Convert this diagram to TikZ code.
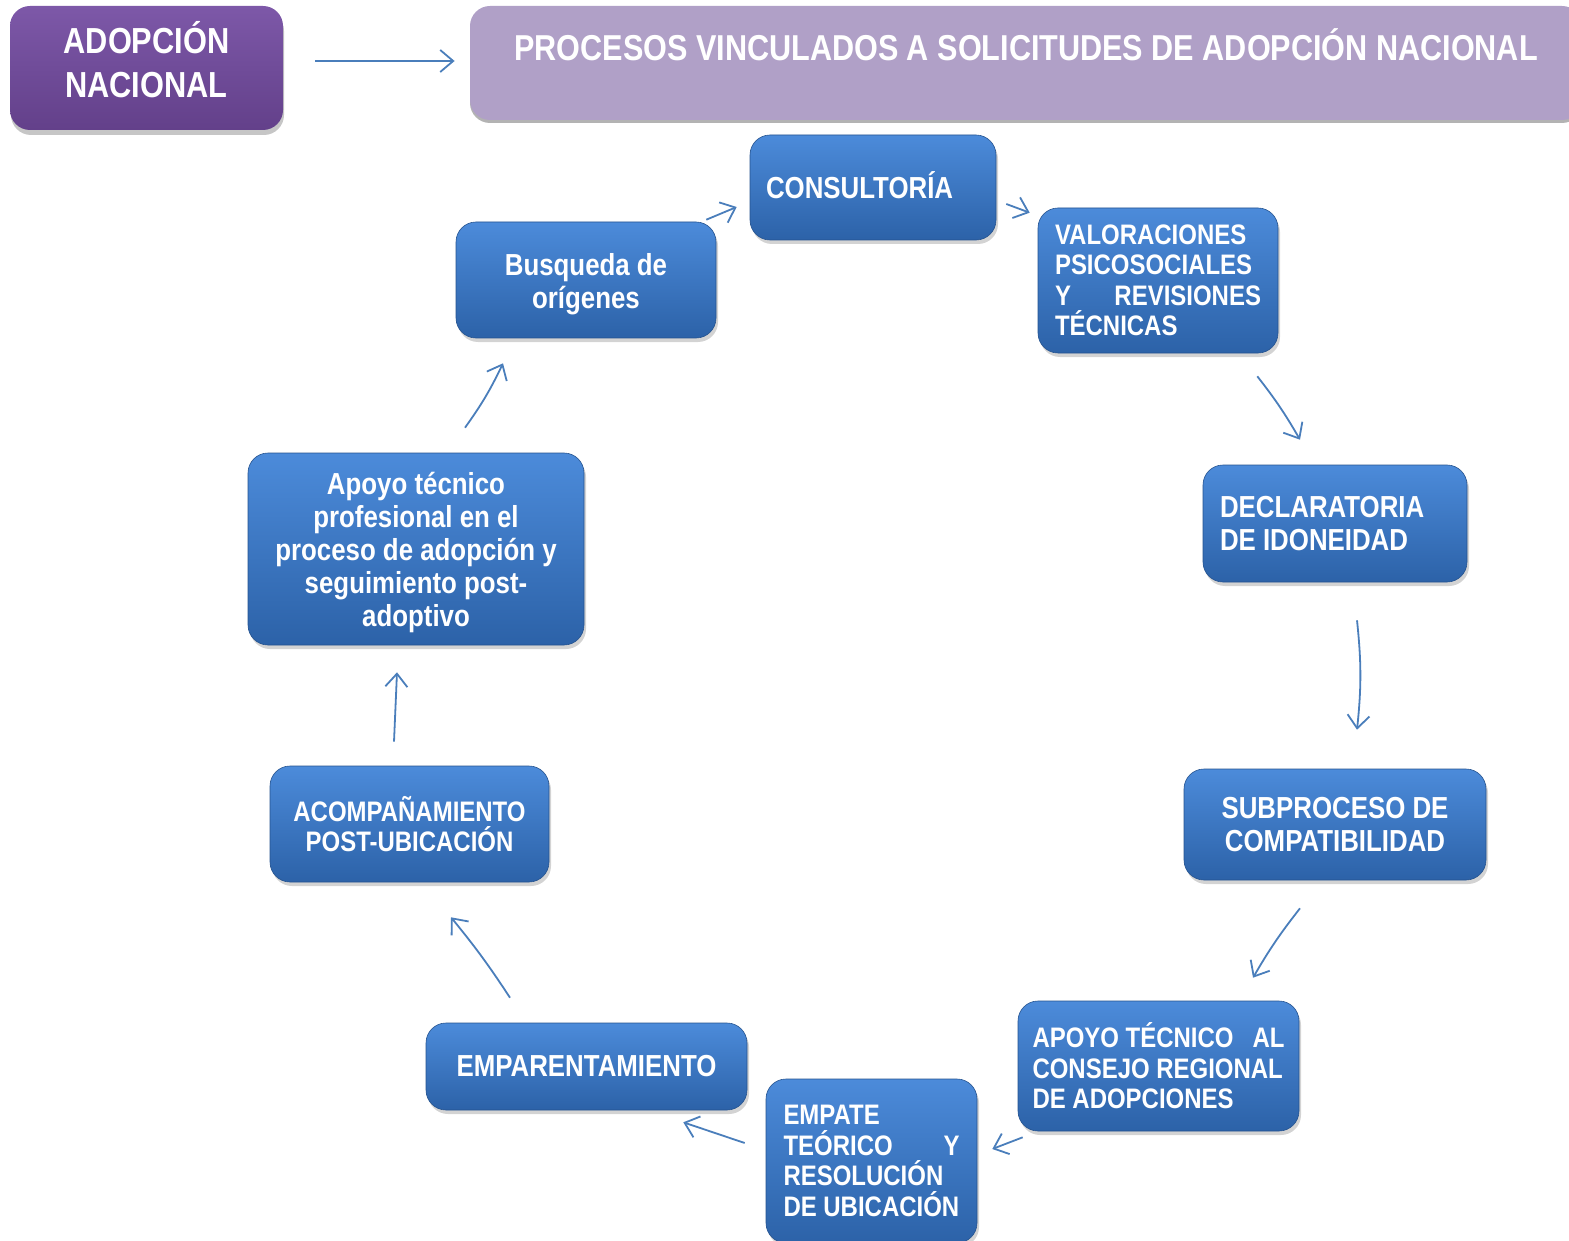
\documentclass[tikz,border=0pt]{standalone}
\usepackage{fontspec}
\setmainfont{Liberation Sans}[FakeStretch=0.85]
\usetikzlibrary{arrows.meta,shadows}

\definecolor{boxtop}{RGB}{76,139,218}
\definecolor{boxbot}{RGB}{44,98,168}
\definecolor{purtop}{RGB}{125,88,168}
\definecolor{purbot}{RGB}{99,64,138}
\definecolor{lilac}{RGB}{176,160,199}
\definecolor{flowblue}{RGB}{74,126,187}

\newcommand{\spreadline}[1]{\leavevmode\hbox to\hsize{#1}}

\tikzset{
  blk/.style={rounded corners=10pt,top color=boxtop,bottom color=boxbot,draw=boxbot!85!black,line width=0.3pt,
    drop shadow={shadow xshift=1pt,shadow yshift=-2pt,opacity=0.35},text=white,inner sep=0pt},
  bigtxt/.style={font=\bfseries\fontsize{15.2}{16.5}\selectfont},
  smalltxt/.style={font=\bfseries\fontsize{14.1}{15.25}\selectfont},
  hdr/.style={rounded corners=10pt,top color=purtop,bottom color=purbot,draw=none,
    drop shadow={shadow xshift=0.5pt,shadow yshift=-2.5pt,opacity=0.45},text=white,inner sep=0pt,
    align=flush center,font=\bfseries\fontsize{18.1}{22}\selectfont},
  titlebox/.style={rounded corners=10pt,fill=lilac,draw=none,
    drop shadow={shadow xshift=0pt,shadow yshift=-1.5pt,opacity=0.6},text=white,inner sep=0pt,
    font=\bfseries\fontsize{18}{18}\selectfont},
  flow/.style={draw=flowblue,line width=0.9pt,-{Straight Barb[length=6.5pt,width=11pt]}}
}

\begin{document}
\begin{tikzpicture}[x=0.5pt,y=-0.5pt]
    \useasboundingbox (0,0) rectangle (1569,1241);

    % cabecera
    \node (adop) at (146.5,68) [hdr,minimum width=136.5pt,minimum height=62pt,text width=120pt,
      text height=10pt,text depth=24pt] {ADOPCIÓN\\NACIONAL};
    \node (title) at (1026,63) [titlebox,minimum width=556pt,text height=27.25pt,text depth=29.75pt]
      {PROCESOS VINCULADOS A SOLICITUDES DE ADOPCIÓN NACIONAL};
    \draw [flow] ([shift={(32,-7)}]adop.east) -- ([shift={(-15,-2)}]title.west);

    % ciclo
    \node (cons) at (873,187.5) [blk,bigtxt,minimum width=123pt,minimum height=52.5pt,text width=107pt,align=flush left,
      text height=10.9pt,text depth=0pt] {CONSULTORÍA};
    \node (val) at (1158,280.5) [blk,smalltxt,minimum width=120pt,minimum height=72.5pt,text width=103pt,align=flush left]
      {VALORACIONES\\PSICOSOCIALES\\\spreadline{Y\hfill REVISIONES}\\TÉCNICAS};
    \node (decl) at (1335,523.5) [blk,bigtxt,minimum width=132pt,minimum height=58.5pt,text width=115pt,align=flush left]
      {DECLARATORIA\\DE IDONEIDAD};
    \node (subp) at (1335,824.5) [blk,bigtxt,minimum width=151pt,minimum height=55.5pt,align=center]
      {SUBPROCESO DE\\COMPATIBILIDAD};
    \node (apcr) at (1158.5,1066) [blk,smalltxt,minimum width=140.5pt,minimum height=65pt,text width=126pt,align=flush left]
      {\spreadline{APOYO TÉCNICO\hfill AL}\\\mbox{CONSEJO REGIONAL}\\DE ADOPCIONES};
    \node (empt) at (871.5,1161) [blk,smalltxt,minimum width=105.5pt,minimum height=82pt,text width=88pt,align=flush left]
      {EMPATE\\\spreadline{TEÓRICO\hfill Y}\\RESOLUCIÓN\\\mbox{DE UBICACIÓN}};
    \node (empa) at (586.5,1066.5) [blk,bigtxt,minimum width=160.5pt,minimum height=43.5pt,align=center] {EMPARENTAMIENTO};
    \node (acom) at (409.5,824) [blk,smalltxt,minimum width=139.5pt,minimum height=58pt,align=center]
      {ACOMPAÑAMIENTO\\POST-UBICACIÓN};
    \node (apt) at (416,549) [blk,bigtxt,minimum width=168pt,minimum height=96pt,text width=150pt,align=flush center,
      text height=11pt,text depth=66pt]
      {Apoyo técnico\\profesional en el\\proceso de adopción y\\seguimiento post-\\adoptivo};
    \node (busq) at (586,280) [blk,bigtxt,minimum width=130pt,minimum height=58pt,text width=114pt,align=flush center,
      text height=11pt,text depth=15pt]
      {Busqueda de\\orígenes};

    \draw [flow] ([shift={(-10,-2)}]busq.north east) -- ([shift={(-13,19.5)}]cons.west);
    \draw [flow] ([shift={(10,16.5)}]cons.east) -- ([shift={(-8,5)}]val.north west);
    \draw [flow] ([shift={(-21,23)}]val.south east) to[bend left=4] ([shift={(-35,-25)}]decl.north);
    \draw [flow] ([shift={(22,38)}]decl.south) to[bend left=6] ([shift={(22,-39)}]subp.north);
    \draw [flow] ([shift={(-35,28)}]subp.south) to[bend right=4] ([shift={(94.5,-23)}]apcr.north);
    \draw [flow] ([shift={(5,6)}]apcr.south west) -- ([shift={(15,-12)}]empt.east);
    \draw [flow] ([shift={(-21,-18)}]empt.west) -- ([shift={(-64,12)}]empa.south east);
    \draw [flow] ([shift={(-76.5,-25)}]empa.north) to[bend right=3] ([shift={(41.5,35)}]acom.south);
    \draw [flow] ([shift={(-15.5,-24)}]acom.north) -- ([shift={(-19,27)}]apt.south);
    \draw [flow] ([shift={(49,-25)}]apt.north) to[bend right=5] ([shift={(-83,25)}]busq.south);
\end{tikzpicture}
\end{document}
